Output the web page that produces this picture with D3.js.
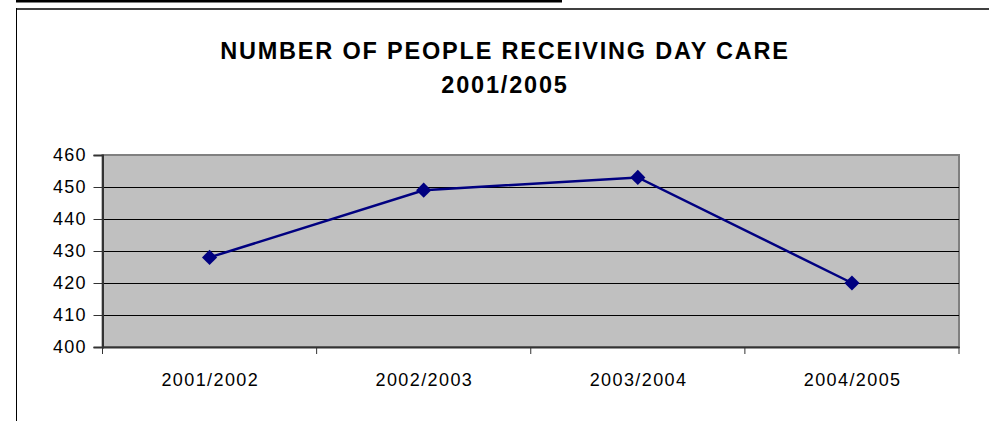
<!DOCTYPE html>
<html><head><meta charset="utf-8">
<script src="https://cdn.jsdelivr.net/npm/d3@7"></script>
<style>body{margin:0;background:#fff}svg{display:block}</style>
</head><body>
<svg id="c" width="989" height="421"></svg>
<script>
const categories = ["2001/2002","2002/2003","2003/2004","2004/2005"];
const values = [428, 449, 453, 420];
const yTicks = [400,410,420,430,440,450,460];
const titleLines = ["NUMBER OF PEOPLE RECEIVING DAY CARE","2001/2005"];

const svg = d3.select("#c");
const font = "'Liberation Sans', Arial, sans-serif";
// decorative top line and frame
svg.append("rect").attr("x",16).attr("y",0).attr("width",546).attr("height",2.5).attr("fill","#000");
svg.append("line").attr("x1",16).attr("x2",989).attr("y1",9).attr("y2",9).attr("stroke","#404040").attr("stroke-width",2);
svg.append("line").attr("x1",16.5).attr("x2",16.5).attr("y1",8).attr("y2",421).attr("stroke","#000").attr("stroke-width",1);

const L=102.5,R=959,T=155,B=347;
const x = d3.scaleBand().domain(categories).range([L,R]);
const y = d3.scaleLinear().domain([400,460]).range([B,T]);

svg.append("rect").attr("x",L).attr("y",T).attr("width",R-L).attr("height",B-T).attr("fill","#c0c0c0").attr("stroke","#808080").attr("stroke-width",2);

svg.append("g").selectAll("line").data(yTicks.filter(t=>t>400&&t<460)).join("line")
  .attr("x1",L).attr("x2",R).attr("y1",d=>Math.round(y(d))+0.5).attr("y2",d=>Math.round(y(d))+0.5)
  .attr("stroke","#000").attr("stroke-width",1);

const yAxis = svg.append("g").attr("transform",`translate(${L},0)`)
  .call(d3.axisLeft(y).tickValues(yTicks).tickSize(9).tickPadding(8));
yAxis.select(".domain").attr("stroke","#333").attr("stroke-width",2);
yAxis.selectAll(".tick line").attr("stroke","#333");
yAxis.selectAll("text").attr("font-family",font).attr("font-size",18).attr("fill","#000")
  .attr("letter-spacing","1.3px").attr("dx","1.3px");

const xAxis = svg.append("g").attr("transform",`translate(0,${B})`)
  .call(d3.axisBottom(x).tickSize(0).tickPadding(26));
xAxis.select(".domain").attr("stroke","#333").attr("stroke-width",2);
xAxis.selectAll("text").attr("font-family",font).attr("font-size",18).attr("fill","#000")
  .attr("letter-spacing","1.4px").attr("dx","0.7px");
const bounds = categories.map(c=>x(c)).concat([R]);
svg.append("g").selectAll("line").data(bounds).join("line")
  .attr("x1",d=>d).attr("x2",d=>d).attr("y1",B).attr("y2",B+7).attr("stroke","#333");

const line = d3.line().x((d,i)=>x(categories[i])+x.bandwidth()/2).y(d=>y(d));
svg.append("path").datum(values).attr("d",line).attr("fill","none").attr("stroke","#000080").attr("stroke-width",2.5);
svg.append("g").selectAll("path").data(values).join("path")
  .attr("d",d3.symbol(d3.symbolSquare,115))
  .attr("transform",(d,i)=>`translate(${x(categories[i])+x.bandwidth()/2},${y(d)}) rotate(45)`)
  .attr("fill","#000080");

svg.append("g").selectAll("text").data(titleLines).join("text")
  .attr("x",504).attr("y",(d,i)=>59+i*34).attr("text-anchor","middle")
  .attr("font-family",font).attr("font-weight","bold").attr("font-size",23.5)
  .attr("letter-spacing","1.8px").attr("dx","1px").text(d=>d);
</script>
</body></html>
